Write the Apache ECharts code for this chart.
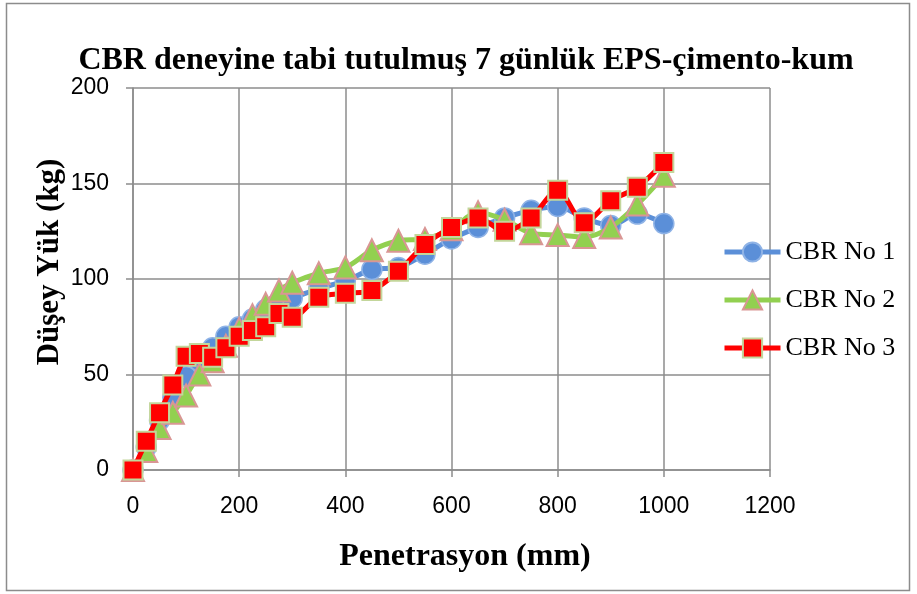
<!DOCTYPE html>
<html>
<head>
<meta charset="utf-8">
<script src="https://cdn.jsdelivr.net/npm/echarts@6/dist/echarts.min.js"></script>
<style>
  html, body { margin: 0; padding: 0; background: #ffffff; }
  #chart { width: 917px; height: 594px; }
</style>
</head>
<body>
<div id="chart"></div>
<script>
// Penetration depth (mm) for each reading
const penetrasyon = [0, 25, 50, 75, 100, 125, 150, 175, 200, 225, 250, 275, 300,
  350, 400, 450, 500, 550, 600, 650, 700, 750, 800, 850, 900, 950, 1000];

// Vertical load (kg) for each specimen
const cbrNo1 = [0, 12, 26, 38, 49, 57, 64, 70, 75, 79, 84, 88, 90,
  95, 99, 105, 106, 113, 121, 127, 132, 136, 138, 132, 128, 134, 129];
const cbrNo2 = [0, 10, 22, 30, 39, 50, 57, 65, 74, 81, 87, 94, 98,
  103, 106, 115, 120, 121, 126, 135, 131, 124, 123, 122, 127, 139, 154];
const cbrNo3 = [0, 15, 30, 44.5, 59.5, 61, 59, 64, 70, 73, 75, 82, 80,
  90.5, 92.5, 94, 104, 118, 127, 132, 125, 132, 146.5, 129.5, 141, 148, 161];

const seriesNames = ['CBR No 1', 'CBR No 2', 'CBR No 3'];
const titleText = 'CBR deneyine tabi tutulmuş 7 günlük EPS-çimento-kum';
const xTitle = 'Penetrasyon (mm)';
const yTitle = 'Düşey Yük (kg)';

const pairs = ys => penetrasyon.map((x, i) => [x, ys[i]]);

const serif = '"Liberation Serif", "Times New Roman", serif';
const sans = '"Liberation Sans", Arial, sans-serif';
const gridGray = '#8c8c8c';
const plainNumber = v => String(v);

const chart = echarts.init(document.getElementById('chart'), null, { renderer: 'canvas' });

chart.setOption({
  animation: false,
  backgroundColor: '#ffffff',
  grid: { left: 133, right: 147, top: 88, bottom: 124, containLabel: false },
  legend: {
    orient: 'vertical',
    left: 722,
    top: 239,
    padding: 0,
    itemWidth: 56,
    itemHeight: 24,
    itemGap: 22,
    data: seriesNames,
    lineStyle: { width: 5 },
    textStyle: { fontFamily: serif, fontSize: 26, color: '#000' }
  },
  xAxis: {
    type: 'value',
    min: 0, max: 1200, interval: 200,
    axisLine: { show: true, lineStyle: { color: gridGray, width: 1.5 } },
    axisTick: { show: true, inside: false, length: 7, lineStyle: { color: gridGray, width: 1.5 } },
    splitLine: { show: true, lineStyle: { color: gridGray, width: 1.5 } },
    axisLabel: { margin: 25, fontFamily: sans, fontSize: 23, color: '#000', formatter: plainNumber }
  },
  yAxis: {
    type: 'value',
    min: 0, max: 200, interval: 50,
    axisLine: { show: true, lineStyle: { color: gridGray, width: 1.5 } },
    axisTick: { show: true, inside: false, length: 7, lineStyle: { color: gridGray, width: 1.5 } },
    splitLine: { show: true, lineStyle: { color: gridGray, width: 1.5 } },
    axisLabel: { margin: 24, fontFamily: sans, fontSize: 23, color: '#000', formatter: plainNumber }
  },
  graphic: [
    {
      type: 'rect', silent: true, z: -1,
      shape: { x: 6.5, y: 3.5, width: 903, height: 587 },
      style: { fill: 'none', stroke: '#8c8c8c', lineWidth: 1.5 }
    },
    {
      type: 'text', x: 466, y: 61,
      style: { text: titleText, font: 'bold 32px ' + serif, fill: '#000', align: 'center', verticalAlign: 'middle' }
    },
    {
      type: 'text', x: 465, y: 557,
      style: { text: xTitle, font: 'bold 32px ' + serif, fill: '#000', align: 'center', verticalAlign: 'middle' }
    },
    {
      type: 'text', x: 50, y: 262, rotation: Math.PI / 2,
      style: { text: yTitle, font: 'bold 31px ' + serif, fill: '#000', align: 'center', verticalAlign: 'middle' }
    }
  ],
  series: [
    {
      name: seriesNames[0], type: 'line', data: pairs(cbrNo1), smooth: 0.3,
      symbol: 'circle', symbolSize: 20,
      lineStyle: { color: '#5b8fd8', width: 5 },
      itemStyle: { color: '#5b8fd8', borderColor: '#8fb3e6', borderWidth: 1.5 },
      z: 2
    },
    {
      name: seriesNames[1], type: 'line', data: pairs(cbrNo2), smooth: 0.3,
      symbol: 'triangle', symbolSize: 22,
      lineStyle: { color: '#92d050', width: 5 },
      itemStyle: { color: '#92d050', borderColor: '#d99694', borderWidth: 2 },
      z: 3
    },
    {
      name: seriesNames[2], type: 'line', data: pairs(cbrNo3), smooth: 0.3,
      symbol: 'rect', symbolSize: 19,
      lineStyle: { color: '#ff0000', width: 5 },
      itemStyle: { color: '#ff0000', borderColor: '#c3d69b', borderWidth: 2 },
      z: 4
    }
  ]
});
</script>
</body>
</html>
